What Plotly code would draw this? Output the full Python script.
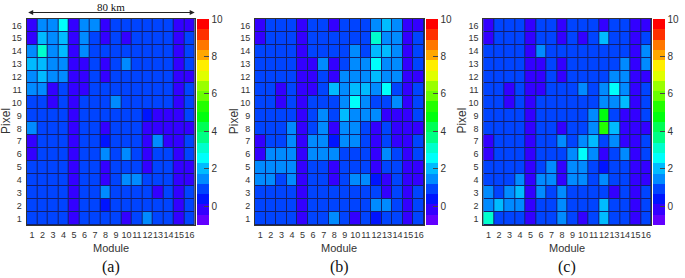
import plotly.graph_objects as go

# ---------------- data (rows listed from Pixel 16 down to Pixel 1) ----------------
modules = list(range(1, 17))
pixels = list(range(1, 17))

panel_a = [
    [-0.2, 1.5, 1.5, 2.6, -0.2, 1.5, 1.5, -0.2, 0.9, 0.9, 0.9, 0.9, 0.9, 0.9, -0.2, -0.2],
    [-0.2, 2.0, 1.5, 2.0, -0.2, 1.5, 0.9, -0.2, 0.9, -0.2, 0.9, 0.9, 0.9, 0.9, -0.2, 0.9],
    [1.5, 3.1, 1.5, 2.0, -0.2, 1.5, 0.9, 0.9, 0.9, 0.9, 0.9, 0.9, 0.9, 0.9, -0.2, 0.9],
    [2.0, 2.0, 1.5, 1.5, -0.2, -0.2, 0.9, -0.2, 0.9, 1.5, 0.9, 0.9, 0.9, 0.9, -0.2, 0.9],
    [1.5, 2.0, 1.5, 1.5, -0.2, -0.2, 0.9, -0.2, 0.9, 0.9, 0.9, 0.9, 0.9, 0.9, -0.2, -0.2],
    [1.5, 1.5, -0.2, 0.9, -0.2, -0.2, 0.9, 0.9, 0.9, 0.9, 0.9, 0.9, 0.9, 0.9, -0.2, 0.9],
    [0.9, 0.9, -0.2, 0.9, -0.2, 0.9, 0.9, 0.9, 1.5, 0.9, 0.9, 0.9, 0.9, 0.9, -0.2, 0.9],
    [0.9, 0.9, 0.9, 0.9, -0.2, 0.9, 0.9, 0.9, 0.9, 0.9, 0.9, 0.4, -0.2, -0.2, -0.2, 0.9],
    [1.5, 0.9, 0.9, 0.9, -0.2, 0.9, 0.9, -0.2, 0.9, 0.9, 0.9, -0.2, -0.2, -0.2, -0.2, -0.2],
    [-0.2, 0.9, 0.9, 0.9, -0.2, 0.9, 0.9, 0.4, 0.9, 0.9, 0.9, -0.2, 1.5, -0.2, -0.2, 0.9],
    [-0.2, 0.9, 0.9, 0.9, -0.2, 0.9, 0.9, 1.5, 0.9, 1.5, 0.9, -0.2, 0.9, 0.9, -0.2, 0.9],
    [0.9, 0.9, 0.9, 0.9, -0.2, 0.9, 0.9, -0.2, 0.9, 0.9, 0.9, -0.2, 0.9, 0.9, -0.2, -0.2],
    [0.9, 0.9, 0.9, 0.9, -0.2, 0.9, 0.9, -0.2, 0.9, 1.5, 1.5, 0.9, 0.9, 0.9, -0.2, -0.2],
    [0.9, 0.9, 0.9, 0.9, -0.2, 0.9, 0.9, 1.5, 0.9, 0.9, 0.9, 0.9, -0.2, 0.9, -0.2, 0.9],
    [0.9, 0.9, 0.9, 0.9, -0.2, 0.9, 0.9, 0.4, 0.9, 0.9, 0.9, 0.9, 0.9, 0.9, -0.2, 0.9],
    [0.9, 0.9, 0.9, 0.9, -0.2, 0.9, 0.9, 0.9, 0.9, -0.2, 0.9, 1.5, 0.9, 0.9, -0.2, 0.9],
]

panel_b = [
    [-0.2, 0.9, 0.9, 0.9, -0.2, 0.9, 0.9, -0.2, 0.9, 0.9, 0.9, 1.5, 2.0, 1.5, -0.2, -0.2],
    [-0.2, 0.9, 0.9, 0.9, -0.2, 0.9, 0.9, 0.9, 0.9, 0.9, 0.9, 3.1, 1.5, 1.5, -0.2, 0.9],
    [0.9, 0.9, 0.9, 0.9, -0.2, 0.9, 0.9, 0.9, 0.9, 1.5, 0.9, 2.0, 2.0, 1.5, -0.2, 0.9],
    [0.9, 0.9, 0.9, 0.9, -0.2, -0.2, 1.5, -0.2, 0.9, 1.5, 1.5, 2.6, 1.5, 1.5, -0.2, 0.9],
    [0.9, 0.9, 0.9, 0.9, -0.2, -0.2, 0.9, -0.2, 1.5, 1.5, 1.5, 2.0, 1.5, 1.5, -0.2, -0.2],
    [0.9, 0.9, -0.2, 0.9, -0.2, -0.2, 0.9, 2.0, 1.5, 2.0, 2.0, 1.5, 2.6, 0.9, -0.2, 0.9],
    [0.9, 0.9, -0.2, 0.9, -0.2, 0.9, 0.9, 0.9, 1.5, 2.6, 1.5, 0.9, 0.9, 1.5, -0.2, 0.9],
    [0.9, 0.9, 0.9, 0.9, -0.2, 0.9, 1.5, 0.9, 2.0, 1.5, 1.5, 1.5, -0.2, -0.2, -0.2, 0.9],
    [0.9, 0.9, 0.9, 1.5, -0.2, 0.9, 1.5, -0.2, 1.5, 1.5, 0.9, -0.2, 0.9, -0.2, -0.2, -0.2],
    [-0.2, 0.9, 0.9, 1.5, -0.2, 1.5, 1.5, 0.4, 1.5, 1.5, 0.9, -0.2, 0.9, -0.2, -0.2, 0.9],
    [-0.2, 1.5, 1.5, 1.5, -0.2, 1.5, 1.5, 1.5, 0.9, 0.9, 0.9, -0.2, 1.5, 0.9, -0.2, 0.9],
    [1.5, 1.5, 1.5, 1.5, -0.2, 0.9, 0.9, -0.2, 0.9, 0.9, 0.9, -0.2, 0.9, 0.9, -0.2, -0.2],
    [1.5, 1.5, 0.9, 1.5, -0.2, 0.9, 0.9, -0.2, 0.9, 1.5, 1.5, 0.4, -0.2, 0.9, -0.2, -0.2],
    [0.9, 0.9, 0.9, 0.9, -0.2, 0.9, 0.9, 0.9, 0.9, 0.9, 0.9, 0.9, -0.2, 0.9, -0.2, 0.9],
    [0.9, 0.9, 0.9, 0.9, -0.2, 0.9, 0.9, 0.9, 0.9, 0.9, 0.9, 1.5, 1.5, 0.9, -0.2, 0.9],
    [0.9, 0.9, 0.9, 0.9, -0.2, 0.9, 0.9, 1.5, 0.9, -0.2, 0.9, 0.4, 0.9, 0.9, -0.2, 0.9],
]

panel_c = [
    [-0.2, 0.9, 0.9, 0.9, -0.2, 0.9, 0.9, -0.2, 0.9, 0.9, 0.9, -0.2, 0.9, 0.9, -0.2, -0.2],
    [-0.2, 0.9, 0.9, 0.9, -0.2, 0.9, 0.9, -0.2, 0.9, -0.2, 0.9, 2.0, 0.9, 0.9, -0.2, 0.9],
    [0.9, 0.9, 0.9, 0.9, -0.2, 1.5, 0.9, 0.9, 0.9, 0.9, 0.9, 0.9, 0.9, 0.9, -0.2, 1.5],
    [0.9, 0.9, 0.9, 0.9, -0.2, -0.2, 0.9, -0.2, 0.9, 0.9, 0.9, 0.9, 0.9, 1.5, -0.2, 1.5],
    [0.9, 0.9, 0.9, 0.9, -0.2, -0.2, 0.9, -0.2, 0.9, 0.9, 0.9, 0.9, 1.5, 1.5, -0.2, -0.2],
    [0.9, 0.9, -0.2, 0.9, -0.2, -0.2, 0.9, 0.9, 0.9, 1.5, 0.9, 1.5, 2.6, 1.5, -0.2, 0.9],
    [0.9, 0.9, -0.2, 0.9, -0.2, 0.9, 0.9, 0.9, 0.9, 0.9, 0.9, 1.5, 1.5, 2.0, -0.2, 0.9],
    [0.9, 0.9, 0.9, 0.9, -0.2, 0.9, 0.9, 0.9, 0.9, 0.9, 1.5, 4.8, 0.9, -0.2, -0.2, 0.9],
    [0.9, 0.9, 0.9, 0.9, -0.2, 0.9, 0.9, -0.2, 0.9, 0.9, 1.5, 5.3, 2.0, -0.2, -0.2, -0.2],
    [-0.2, 0.9, 0.9, 0.9, -0.2, 0.9, 0.9, 1.5, 0.9, 1.5, 2.0, 0.9, 1.5, -0.2, -0.2, 0.9],
    [-0.2, 0.9, 0.9, 0.9, -0.2, 0.9, 0.9, 0.9, 1.5, 2.6, 1.5, -0.2, 0.9, 1.5, -0.2, 0.9],
    [0.9, 0.9, 0.9, 0.9, -0.2, 0.9, 1.5, -0.2, 1.5, 1.5, 0.9, 0.4, 0.9, 0.9, -0.2, -0.2],
    [0.9, 0.9, 0.9, 1.5, -0.2, 1.5, 1.5, -0.2, 1.5, 1.5, 0.9, 1.5, 0.9, 0.9, -0.2, -0.2],
    [1.5, 0.9, 1.5, 2.0, -0.2, 1.5, 0.9, 1.5, 0.9, 0.9, 0.9, 0.9, -0.2, 0.9, -0.2, 0.9],
    [1.5, 2.0, 1.5, 1.5, -0.2, 0.9, 0.9, 1.5, 0.9, 0.9, 0.9, 2.0, 0.9, 0.9, -0.2, 0.9],
    [3.1, 0.9, 0.9, 0.9, -0.2, 0.9, 0.9, 1.5, 0.9, -0.2, 0.9, 2.0, 0.9, 0.9, -0.2, 0.9],
]

panel_labels = ["(a)", "(b)", "(c)"]
cbar_ticks = [0, 2, 4, 6, 8, 10]
z_min, z_max = -1, 10
scale_text = "80 km"

# ROOT-like 20-level rainbow palette
palette = ["#6200ff", "#3300ff", "#0014ff", "#0044ff", "#008bff", "#00bbff",
           "#00fffb", "#00ffcc", "#00ff85", "#00ff55", "#00ff0e", "#22ff00",
           "#69ff00", "#99ff00", "#e0ff00", "#ffee00", "#ffa700", "#ff7700",
           "#ff3000", "#ff0000"]

n = len(palette)
colorscale = []
for j, c in enumerate(palette):
    colorscale.append([j / n, c])
    colorscale.append([(j + 1) / n, c])

W, H = 685, 278
FONT = "Liberation Sans, Arial, sans-serif"
SERIF = "Liberation Serif, Times New Roman, serif"

# pixel geometry
plot_x = [(27, 197), (258, 429), (489, 659)]
cbar_x = [199, 431, 661]
top_px, bot_px = 19, 225
pixel_title_x = [6, 237, 467]

fig = go.Figure()
data_sets = [panel_a, panel_b, panel_c]
for i, zz in enumerate(data_sets):
    suffix = "" if i == 0 else str(i + 1)
    fig.add_trace(go.Heatmap(
        z=zz[::-1], x=modules, y=pixels,
        zmin=z_min, zmax=z_max, colorscale=colorscale,
        xgap=1, ygap=1,
        xaxis="x" + suffix, yaxis="y" + suffix,
        colorbar=dict(
            x=cbar_x[i] / W, xanchor="left", xpad=0, ypad=0,
            y=1 - top_px / H, yanchor="top",
            lenmode="pixels", len=bot_px - top_px,
            thickness=12, outlinewidth=0,
            tickvals=cbar_ticks, ticks="inside", ticklen=5,
            tickcolor="#444", tickwidth=1,
            tickfont=dict(family=FONT, size=10, color="#333"),
        ),
        showscale=True,
    ))

layout = dict(
    width=W, height=H,
    margin=dict(l=0, r=0, t=0, b=0),
    paper_bgcolor="white",
    plot_bgcolor="#12206e",
    showlegend=False,
)
annotations = []
for i in range(3):
    suffix = "" if i == 0 else str(i + 1)
    x0, x1 = plot_x[i]
    layout["xaxis" + suffix] = dict(
        domain=[x0 / W, x1 / W], range=[0.5, 16.5],
        anchor="y" + suffix, tickvals=modules, ticks="",
        tickangle=0,
        showgrid=False, zeroline=False,
        showline=True, mirror=True, linecolor="#333", linewidth=1,
        tickfont=dict(family=FONT, size=9, color="#333"),
        ticklabelstandoff=1,
    )
    layout["yaxis" + suffix] = dict(
        domain=[1 - bot_px / H, 1 - top_px / H], range=[0.5, 16.5],
        anchor="x" + suffix, tickvals=pixels, ticks="",
        showgrid=False, zeroline=False,
        showline=True, mirror=True, linecolor="#333", linewidth=1,
        tickfont=dict(family=FONT, size=9, color="#333"),
        ticklabelstandoff=2,
    )
    cx = (x0 + x1) / 2 / W
    annotations.append(dict(
        x=cx, y=1 - 248 / H, xref="paper", yref="paper", text="Module",
        showarrow=False, font=dict(family=FONT, size=11, color="#333"),
        xanchor="center", yanchor="middle"))
    annotations.append(dict(
        x=pixel_title_x[i] / W, y=1 - 121 / H, xref="paper", yref="paper",
        text="Pixel", textangle=-90, showarrow=False,
        font=dict(family=FONT, size=12, color="#333"),
        xanchor="center", yanchor="middle"))
    annotations.append(dict(
        x=cx, y=1 - 267 / H, xref="paper", yref="paper", text=panel_labels[i],
        showarrow=False, font=dict(family=SERIF, size=16, color="#111"),
        xanchor="center", yanchor="middle"))

# 80 km scale arrow above panel (a)
annotations.append(dict(
    x=16.5, y=1 - 12.5 / H, xref="x", yref="paper",
    ax=0.5, ay=0, axref="x", ayref="pixel",
    text="", showarrow=True, arrowside="end+start",
    arrowhead=2, arrowsize=1, arrowwidth=1, arrowcolor="#222",
    standoff=0, startstandoff=0))
annotations.append(dict(
    x=8.5, y=1, xref="x", yref="paper", text=scale_text,
    showarrow=False, font=dict(family=SERIF, size=11, color="#111"),
    xanchor="center", yanchor="top", borderpad=0))

layout["annotations"] = annotations
fig.update_layout(**layout)
fig.write_html(
    "out.html",
    config={"displayModeBar": False},
    post_script="document.body.style.margin='0';document.body.style.padding='0';"
                "document.documentElement.style.overflow='hidden';",
)
